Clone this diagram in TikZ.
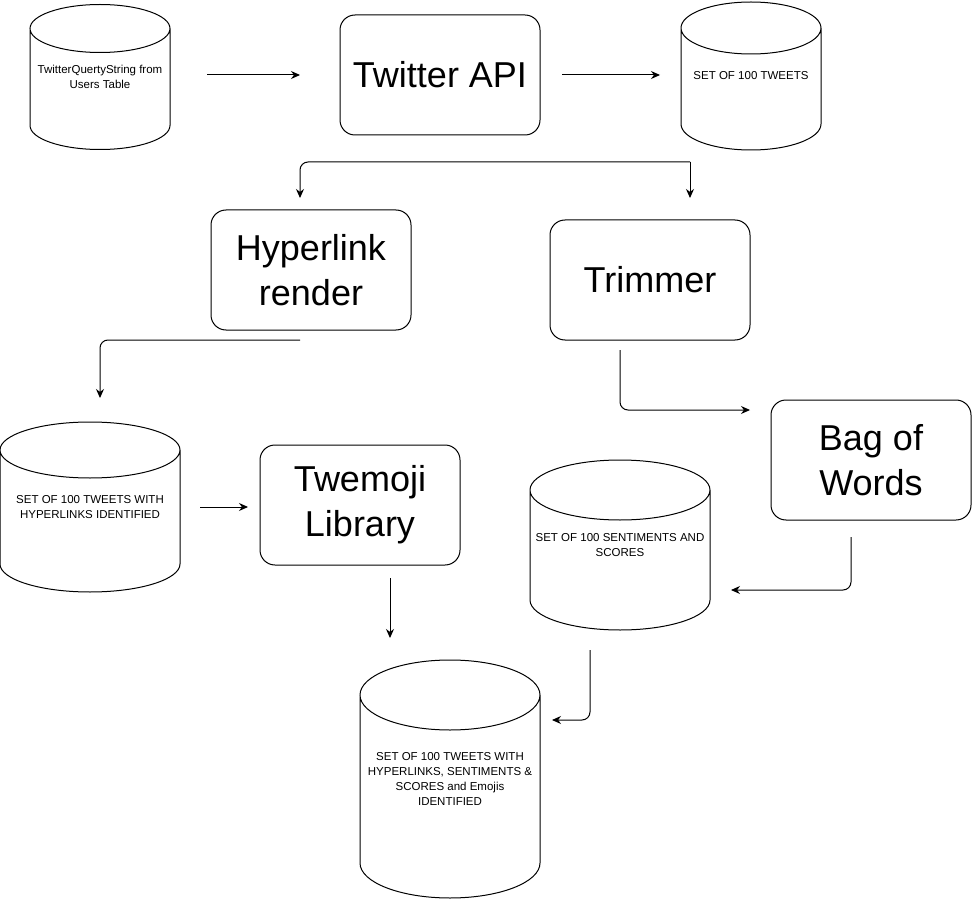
\documentclass[tikz,border=0pt]{standalone}
\usepackage{fontspec}
\setmainfont{Liberation Sans}
\usetikzlibrary{arrows.meta,calc}
\newcommand{\boxfont}{\fontsize{36}{45}\selectfont}
\newcommand{\dbfont}{\fontsize{11.5}{14.7}\selectfont}
\newcommand{\dbdrum}[2]{%
  \draw let \p1=(#1.north west), \p2=(#1.south east), \n1={(\x2-\x1)/2} in
    (\x1,\y1-#2) -- (\x1,\y2+#2)
    arc[start angle=180,end angle=360,x radius=\n1,y radius=#2]
    -- (\x2,\y1-#2)
    (\x1+\n1,\y1-#2) ellipse[x radius=\n1,y radius=#2];}

\begin{document}
\begin{tikzpicture}[x=1pt,y=-1pt,line width=1pt,
   proc/.style={draw,rounded corners=15pt,minimum width=200pt,minimum height=120pt,
                inner sep=0pt,outer sep=0pt,align=center,font=\boxfont},
   store/.style={inner sep=0pt,outer sep=0pt,align=center,font=\dbfont},
   flow/.style={-{Stealth[length=9pt,width=8pt]},rounded corners=8pt}]
   \useasboundingbox (0,0) rectangle (972,904);

   \node[store,minimum width=140pt,minimum height=145pt] (src) at (100,77) {TwitterQuertyString from\\Users Table};
   \node[proc] (api) at (440,75) {Twitter API};
   \node[store,minimum width=140pt,minimum height=148pt] (tw) at (751,76) {SET OF 100 TWEETS};
   \node[proc] (hyp) at (311,270) {Hyperlink\\render};
   \node[proc] (trim) at (650,280) {Trimmer};
   \node[store,minimum width=180pt,minimum height=170pt] (hl) at (90,507) {SET OF 100 TWEETS WITH\\HYPERLINKS IDENTIFIED};
   \node[proc] (emo) at (360,505) {Twemoji\\Library};
   \node[proc] (bag) at (871,460) {Bag of\\Words};
   \node[store,minimum width=180pt,minimum height=170pt] (sent) at (620,545) {SET OF 100 SENTIMENTS AND\\SCORES};
   \node[store,minimum width=180pt,minimum height=238pt] (fin) at (450,779) {SET OF 100 TWEETS WITH\\HYPERLINKS, SENTIMENTS \&\\SCORES and Emojis\\IDENTIFIED};

   % cylinders round the stores
   \dbdrum{src}{24pt}
   \dbdrum{tw}{26pt}
   \dbdrum{hl}{28pt}
   \dbdrum{sent}{30pt}
   \dbdrum{fin}{35pt}

   % connectors
   \coordinate (fork) at (690,162);
   \draw[flow,shorten <=37pt,shorten >=40pt] (src.east |- api.west) -- (api.west);
   \draw[flow,shorten <=22pt,shorten >=21pt] (api.east) -- (api.east -| tw.west);
   \draw[flow,shorten >=22pt] (fork) -- (fork |- trim.north);
   \draw[flow,shorten >=12pt] (fork) -| ([xshift=-11pt]hyp.north);
   \draw[flow] ([xshift=-11pt,yshift=-10pt]hyp.south) -| ([xshift=10pt,yshift=24pt]hl.north);
   \draw[flow,shorten <=20pt,shorten >=12pt] (hl.east) -- (hl.east -| emo.west);
   \draw[flow] ([xshift=30pt,yshift=-13pt]emo.south) -- ([xshift=-60pt,yshift=22pt]fin.north);
   \draw[flow] ([xshift=-30pt,yshift=-10pt]trim.south) |- ([xshift=-21pt,yshift=50pt]bag.west);
   \draw[flow] ([xshift=-20pt,yshift=-17pt]bag.south) |- ([xshift=21pt,yshift=-45pt]sent.east);
   \draw[flow] ([xshift=-30pt,yshift=-20pt]sent.south) |- ([xshift=12pt,yshift=59pt]fin.east);
\end{tikzpicture}
\end{document}
